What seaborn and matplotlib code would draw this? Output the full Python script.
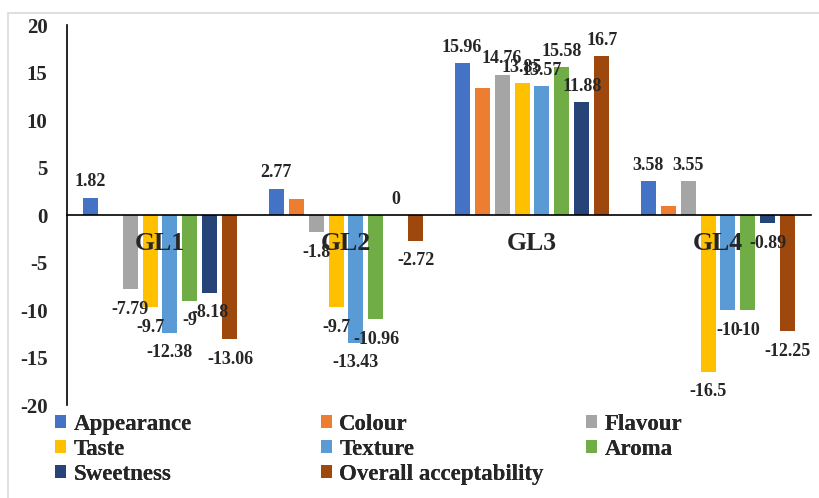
import numpy as np
import pandas as pd
import seaborn as sns
import matplotlib.pyplot as plt
from matplotlib.patches import Rectangle

# data
groups = ["GL1", "GL2", "GL3", "GL4"]
attributes = ["Appearance", "Colour", "Flavour", "Taste", "Texture",
              "Aroma", "Sweetness", "Overall acceptability"]
appearance = [1.82, 2.77, 15.96, 3.58]
colour = [0, 1.7, 13.4, 0.9]
flavour = [-7.79, -1.8, 14.76, 3.55]
taste = [-9.7, -9.7, 13.85, -16.5]
texture = [-12.38, -13.43, 13.57, -10]
aroma = [-9, -10.96, 15.58, -10]
sweetness = [-8.18, 0, 11.88, -0.89]
overall = [-13.06, -2.72, 16.7, -12.25]
yticks = [-20, -15, -10, -5, 0, 5, 10, 15, 20]

series = [appearance, colour, flavour, taste, texture, aroma, sweetness, overall]
colors = ["#4472C4", "#ED7D31", "#A5A5A5", "#FFC000", "#5B9BD5",
          "#70AD47", "#264478", "#9E480E"]

rows = []
for attr, vals in zip(attributes, series):
    for g, v in zip(groups, vals):
        rows.append({"group": g, "attr": attr, "value": v})
df = pd.DataFrame(rows)

sns.set_style("white")
plt.rcParams["font.family"] = ["Liberation Serif", "DejaVu Serif"]
plt.rcParams["font.weight"] = "bold"
plt.rcParams["axes.unicode_minus"] = False

fig = plt.figure(figsize=(8.19, 4.98), dpi=100)
ax = fig.add_axes([67 / 819, 1 - 405 / 498, (811 - 67) / 819, 380 / 498])

sns.barplot(data=df, x="group", y="value", hue="attr", palette=colors,
            width=0.86, gap=0.25, ax=ax, errorbar=None, linewidth=0,
            saturation=1)

handles, labels = ax.get_legend_handles_labels()
ax.legend_.remove()

# data labels (the colour series carries none)
for attr, cont in zip(attributes, ax.containers):
    if attr == "Colour":
        continue
    for bar, v in zip(cont, df[df["attr"] == attr]["value"]):
        xc = bar.get_x() + bar.get_width() / 2
        off = 11.5 if v >= 0 else -14.5
        ax.annotate(f"{v:g}", (xc, v), xytext=(0, off), textcoords="offset points",
                    ha="center", va="center", fontsize=13, fontweight="bold")

ax.set_ylim(-20, 20)
ax.set_yticks(yticks)
ax.set_xlim(-0.5, 3.5)
ax.set_xlabel("")
ax.set_ylabel("")
ax.spines["top"].set_visible(False)
ax.spines["right"].set_visible(False)
ax.spines["bottom"].set_position(("data", 0))
for s in ["left", "bottom"]:
    ax.spines[s].set_color("black")
    ax.spines[s].set_linewidth(1.2)
ax.set_axisbelow(False)
ax.tick_params(axis="y", length=0, pad=14, labelsize=15)
ax.tick_params(axis="x", length=0, pad=12, labelsize=18.5)
for t in ax.get_yticklabels() + ax.get_xticklabels():
    t.set_fontweight("bold")

# outer chart-area border
fig.patches.append(Rectangle((8 / 819, -0.1), 1.1, 1.1 - 13 / 498,
                             transform=fig.transFigure, fill=False,
                             edgecolor="#d9d9d9", linewidth=1.2))

# legend in three columns, filled row-wise
cols = [[0, 3, 6], [1, 4, 7], [2, 5]]
xs = [55, 321, 586]
for idx, x0 in zip(cols, xs):
    leg = fig.legend([handles[i] for i in idx], [labels[i] for i in idx],
                     loc="upper left", bbox_to_anchor=(x0 / 819, 1 - 414 / 498),
                     frameon=False, ncol=1, borderpad=0,
                     borderaxespad=0, handlelength=0.5, handleheight=0.5,
                     handletextpad=0.3, labelspacing=0.17,
                     prop={"weight": "bold", "size": 16.5})
    fig.add_artist(leg)

fig.savefig("out.png", dpi=100)
